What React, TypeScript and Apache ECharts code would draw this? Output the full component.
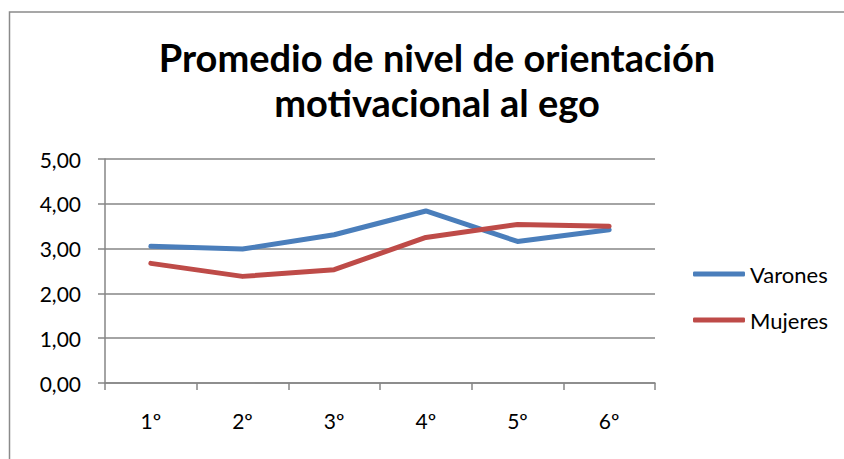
import React, { useEffect, useRef } from "react";
import * as echarts from "echarts";

const categories = ["1º", "2º", "3º", "4º", "5º", "6º"];
const varones = [3.05, 2.99, 3.31, 3.84, 3.16, 3.42];
const mujeres = [2.67, 2.38, 2.53, 3.25, 3.54, 3.5];
const yTicks = { min: 0, max: 5, interval: 1 };
const titleLines = ["Promedio de nivel de orientación", "motivacional al ego"];
const seriesNames = ["Varones", "Mujeres"];

const FONT = "Lato, Carlito, Calibri, sans-serif";

export default function App() {
  const ref = useRef<HTMLDivElement>(null);
  useEffect(() => {
    if (!ref.current) return;
    const chart = echarts.init(ref.current, undefined, { renderer: "svg" });
    chart.setOption({
      animation: false,
      backgroundColor: "#ffffff",
      textStyle: { fontFamily: FONT },
      graphic: [
        {
          type: "rect",
          shape: { x: 9.5, y: 12, width: 900, height: 500 },
          style: { fill: "none", stroke: "#8a8a8a", lineWidth: 1.5 },
          silent: true,
        },
      ],
      title: {
        text: titleLines.join("\n"),
        left: 432,
        textAlign: "center",
        top: 29,
        textStyle: {
          fontFamily: FONT,
          fontWeight: "bold",
          fontSize: 38,
          lineHeight: 45,
          color: "#000",
        },
      },
      legend: {
        orient: "vertical",
        left: 688,
        top: 258,
        itemWidth: 52,
        itemHeight: 5,
        itemGap: 24,
        icon: "roundRect",
        data: seriesNames,
        textStyle: { fontFamily: FONT, fontSize: 22, color: "#000" },
      },
      grid: { left: 105, right: 189, top: 159, bottom: 76, containLabel: false },
      xAxis: {
        type: "category",
        data: categories,
        boundaryGap: true,
        axisLine: { lineStyle: { color: "#868686", width: 1.5 } },
        axisTick: { show: true, length: 7, interval: 0, lineStyle: { color: "#868686", width: 1.5 } },
        axisLabel: { color: "#000", fontSize: 21, margin: 27, fontFamily: FONT },
        splitLine: { show: false },
      },
      yAxis: {
        type: "value",
        min: yTicks.min,
        max: yTicks.max,
        interval: yTicks.interval,
        axisLine: { show: true, lineStyle: { color: "#868686", width: 1.5 } },
        axisTick: { show: true, length: 7, lineStyle: { color: "#868686", width: 1.5 } },
        axisLabel: {
          color: "#000",
          fontSize: 21,
          margin: 24,
          fontFamily: FONT,
          formatter: (v: number) => v.toFixed(2).replace(".", ","),
        },
        splitLine: { show: true, lineStyle: { color: "#868686", width: 1.5 } },
      },
      series: [
        {
          name: seriesNames[0],
          type: "line",
          data: varones,
          symbol: "none",
          lineStyle: { width: 5, color: "#4a7ebb", cap: "round", join: "round" },
          itemStyle: { color: "#4a7ebb" },
        },
        {
          name: seriesNames[1],
          type: "line",
          data: mujeres,
          symbol: "none",
          lineStyle: { width: 5, color: "#be4b48", cap: "round", join: "round" },
          itemStyle: { color: "#be4b48" },
        },
      ],
    });
    return () => chart.dispose();
  }, []);
  return (
    <div
      ref={ref}
      style={{ position: "fixed", left: 0, top: 0, width: 844, height: 459 }}
    />
  );
}
